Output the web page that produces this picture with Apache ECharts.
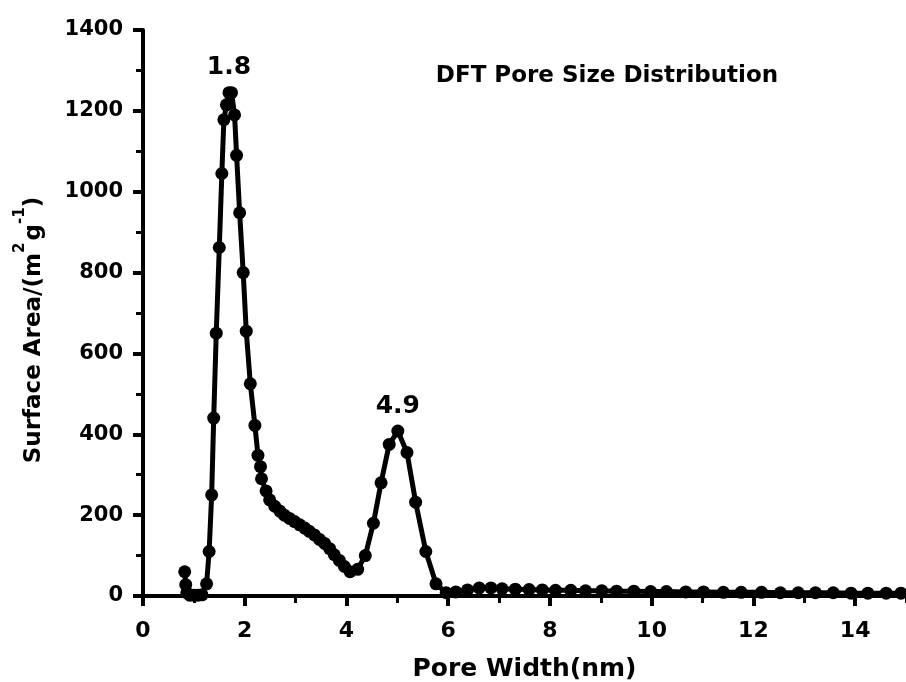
<!DOCTYPE html>
<html>
<head>
<meta charset="utf-8">
<script src="https://cdn.jsdelivr.net/npm/echarts@6/dist/echarts.min.js"></script>
<style>
html,body{margin:0;padding:0;background:#fff;}
#chart{width:906px;height:682px;}
</style>
</head>
<body>
<div id="chart"></div>
<script>
// ---- data ----
const poreWidth = [0.82,0.84,0.86,0.92,1.00,1.08,1.16,1.25,1.30,1.35,1.39,1.44,1.50,1.55,1.59,1.64,1.69,1.74,1.80,1.84,1.90,1.97,2.03,2.11,2.20,2.26,2.31,2.33,2.42,2.49,2.59,2.69,2.78,2.88,2.98,3.08,3.18,3.27,3.37,3.47,3.57,3.67,3.76,3.86,3.96,4.07,4.22,4.37,4.53,4.68,4.84,5.01,5.19,5.36,5.56,5.76,5.96,6.15,6.38,6.61,6.84,7.06,7.32,7.59,7.85,8.11,8.41,8.70,9.02,9.31,9.65,9.98,10.29,10.67,11.02,11.41,11.76,12.16,12.53,12.88,13.22,13.57,13.92,14.25,14.61,14.90];
const surfaceArea = [60,28,8,2,2,2,3,30,110,250,440,650,862,1045,1178,1215,1245,1245,1190,1090,948,800,655,525,422,348,320,290,260,238,222,210,200,192,184,176,168,160,151,140,130,117,102,88,73,60,66,100,180,280,375,408,355,232,110,30,8,10,15,20,20,18,17,16,15,14,14,13,13,12,12,11,11,10,10,9,9,9,8,8,8,8,7,7,7,7];
const peakLabelX = [1.69, 5.01];
const peakLabelText = ['1.8', '4.9'];
const xMin = 0, xMax = 15, xMajor = 2, xMinor = 1;
const yMin = 0, yMax = 1400, yMajor = 200;
const titleText = 'DFT Pore Size Distribution';
const xName = 'Pore Width(nm)';

const FONT = 'DejaVu Sans';
const seriesData = poreWidth.map((x, i) => {
  const k = peakLabelX.indexOf(x);
  if (k >= 0) {
    return {value: [x, surfaceArea[i]], label: {show: true, formatter: peakLabelText[k]}};
  }
  return [x, surfaceArea[i]];
});

const chart = echarts.init(document.getElementById('chart'), null, {renderer: 'canvas'});
chart.setOption({
  animation: false,
  backgroundColor: '#ffffff',
  grid: {left: 143, right: 0, top: 30, bottom: 86, containLabel: false, outerBoundsMode: 'none'},
  xAxis: [{
    type: 'value', min: xMin, max: xMax, interval: xMajor, position: 'bottom',
    name: xName, nameLocation: 'middle', nameGap: 61,
    nameTextStyle: {fontFamily: FONT, fontWeight: 'bold', fontSize: 25, color: '#000'},
    axisLine: {show: true, onZero: false, lineStyle: {color: '#000', width: 4}},
    axisTick: {show: true, inside: false, length: 10, lineStyle: {color: '#000', width: 4}},
    axisLabel: {show: true, showMaxLabel: false, margin: 24, fontFamily: FONT, fontWeight: 'bold', fontSize: 22, color: '#000',
      formatter: v => String(v)},
    splitLine: {show: false}
  }, {
    type: 'value', min: xMin, max: xMax, interval: xMinor, position: 'bottom',
    axisLine: {show: false},
    axisTick: {show: true, inside: false, length: 7, lineStyle: {color: '#000', width: 3}},
    axisLabel: {show: false},
    splitLine: {show: false}
  }],
  yAxis: {
    type: 'value', min: yMin, max: yMax, interval: yMajor,
    axisLine: {show: true, onZero: false, lineStyle: {color: '#000', width: 4}},
    axisTick: {show: true, inside: false, length: 10, lineStyle: {color: '#000', width: 4}},
    minorTick: {show: true, splitNumber: 2, length: 7, lineStyle: {color: '#000', width: 3}},
    axisLabel: {margin: 20, fontFamily: FONT, fontWeight: 'bold', fontSize: 21, color: '#000',
      formatter: v => String(v)},
    splitLine: {show: false},
    minorSplitLine: {show: false}
  },
  graphic: [{
    type: 'text', x: 607, y: 76,
    style: {text: titleText, align: 'center', verticalAlign: 'middle', fontFamily: FONT, fontWeight: 'bold', fontSize: 23, fill: '#000'}
  }, {
    type: 'text', x: 34, y: 330, rotation: Math.PI / 2,
    style: {
      text: 'Surface Area/(m{sup|2}{sp| }g{sup|-1})',
      align: 'center', verticalAlign: 'middle',
      fontFamily: FONT, fontWeight: 'bold', fontSize: 23, fill: '#000', lineHeight: 42,
      rich: {
        sup: {fontFamily: FONT, fontWeight: 'bold', fontSize: 15, verticalAlign: 'top', fill: '#000', lineHeight: 42},
        sp: {fontSize: 8, lineHeight: 42}
      }
    }
  }],
  series: [{
    type: 'line', xAxisIndex: 0, yAxisIndex: 0,
    data: seriesData,
    symbol: 'circle', symbolSize: 13,
    showAllSymbol: true,
    lineStyle: {color: '#000', width: 5},
    itemStyle: {color: '#000'},
    label: {show: false, position: 'top', distance: 6, fontFamily: FONT, fontWeight: 'bold', fontSize: 25, color: '#000'},
    clip: false
  }]
});
</script>
</body>
</html>
